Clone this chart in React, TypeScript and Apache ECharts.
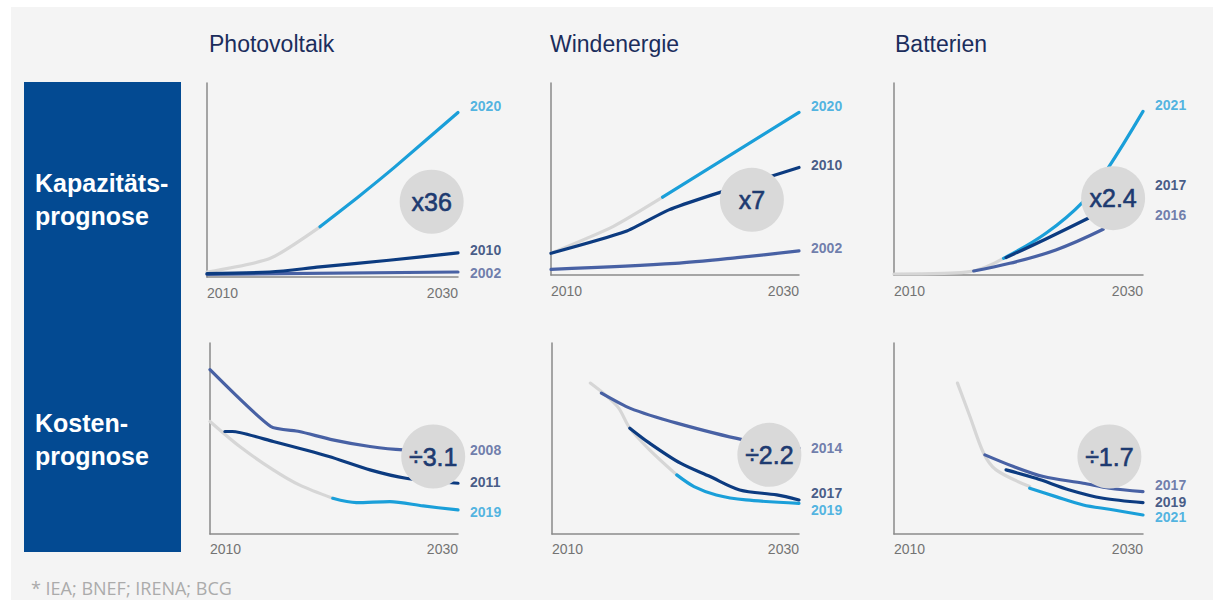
import React, { useEffect, useRef } from "react";
import * as echarts from "echarts";

// ---------- Data (x = year, y = relative index) ----------
const TICK_LABELS = ["2010", "2030"];
const COLUMN_TITLES = ["Photovoltaik", "Windenergie", "Batterien"];
const ROW_TITLES = ["Kapazitäts-\nprognose", "Kosten-\nprognose"];
const SOURCE = "* IEA; BNEF; IRENA; BCG";

// Photovoltaik – Kapazität
const PV_CAP_GRAY = [[2010, 15], [2015, 55], [2019, 150]];
const PV_CAP_2020 = [[2019, 150], [2022, 238], [2025, 330], [2030, 492]];
const PV_CAP_2010 = [[2010, 10], [2015, 15], [2019, 30], [2024.5, 50], [2030, 72]];
const PV_CAP_2002 = [[2010, 8], [2030, 15]];
const PV_CAP_LABELS = ["2020", "2010", "2002"];
const PV_CAP_LABEL_Y = [510, 80, 12];
const PV_CAP_BADGE = ["x36"];
const PV_CAP_BADGE_POS = [2027.9, 225];

// Windenergie – Kapazität
const WIND_CAP_GRAY = [[2010, 65], [2015, 145], [2019, 233]];
const WIND_CAP_2020 = [[2019, 233], [2030, 487]];
const WIND_CAP_2010 = [[2010, 65], [2016, 130], [2019.5, 195], [2023, 240], [2030, 322]];
const WIND_CAP_2002 = [[2010, 17], [2020, 35], [2025, 52], [2030, 72]];
const WIND_CAP_LABELS = ["2020", "2010", "2002"];
const WIND_CAP_LABEL_Y = [505, 330, 80];
const WIND_CAP_BADGE = ["x7"];
const WIND_CAP_BADGE_POS = [2026.2, 225];

// Batterien – Kapazität
const BAT_CAP_GRAY = [[2010, 3], [2014, 5], [2016.1, 10], [2018.8, 50]];
const BAT_CAP_2021 = [[2018.8, 50], [2022.2, 125], [2025.2, 220], [2027.1, 315], [2030, 490]];
const BAT_CAP_2017 = [[2019, 52], [2022.2, 108], [2025.6, 170]];
const BAT_CAP_2016 = [[2016.4, 12], [2019.3, 35], [2023, 75], [2026.8, 137]];
const BAT_CAP_LABELS = ["2021", "2017", "2016"];
const BAT_CAP_LABEL_Y = [510, 270, 180];
const BAT_CAP_BADGE = ["x2.4"];
const BAT_CAP_BADGE_POS = [2027.6, 230];

// Photovoltaik – Kosten
const PV_COST_GRAY = [[2010, 337], [2012.4, 262], [2015.1, 192], [2017.2, 147], [2019.9, 107]];
const PV_COST_2019 = [[2019.9, 107], [2021.8, 94], [2024.5, 97], [2027.2, 84], [2030, 72]];
const PV_COST_2011 = [[2011.2, 307], [2011.8, 307], [2015.1, 277], [2019.6, 232], [2022.9, 192], [2025.8, 167], [2030, 152]];
const PV_COST_2008 = [[2010, 492], [2014.9, 322], [2017.2, 307], [2019.9, 282], [2022.9, 262], [2025.6, 252], [2030, 250]];
const PV_COST_LABELS = ["2008", "2011", "2019"];
const PV_COST_LABEL_Y = [252, 157, 67];
const PV_COST_BADGE = ["÷3.1"];
const PV_COST_BADGE_POS = [2028.0, 232];

// Windenergie – Kosten
const WIND_COST_GRAY = [[2013.1, 452], [2014.3, 417], [2015.4, 377], [2016.3, 317], [2017.9, 252], [2020.1, 177]];
const WIND_COST_2019 = [[2020.1, 177], [2021.5, 142], [2023.3, 117], [2025.7, 102], [2030, 92]];
const WIND_COST_2017 = [[2016.3, 317], [2017.9, 272], [2020.4, 212], [2022.8, 172], [2025.2, 132], [2028.2, 117], [2030, 102]];
const WIND_COST_2014 = [[2014, 422], [2016.3, 377], [2020.1, 332], [2025.5, 282], [2030, 257]];
const WIND_COST_LABELS = ["2014", "2017", "2019"];
const WIND_COST_LABEL_Y = [257, 122, 72];
const WIND_COST_BADGE = ["÷2.2"];
const WIND_COST_BADGE_POS = [2027.6, 237];

// Batterien – Kosten
const BAT_COST_GRAY = [[2015.1, 452], [2016.1, 352], [2017.2, 242], [2018.2, 192], [2020.9, 142]];
const BAT_COST_2021 = [[2020.9, 137], [2023, 112], [2025.2, 87], [2027.3, 74], [2030, 57]];
const BAT_COST_2019 = [[2019, 192], [2021.4, 167], [2024.1, 132], [2026.8, 107], [2030, 94]];
const BAT_COST_2017 = [[2017.3, 237], [2019.6, 202], [2022, 172], [2025.2, 152], [2027.3, 137], [2030, 127]];
const BAT_COST_LABELS = ["2017", "2019", "2021"];
const BAT_COST_LABEL_Y = [147, 97, 52];
const BAT_COST_BADGE = ["÷1.7"];
const BAT_COST_BADGE_POS = [2027.3, 232];

// ---------- Styling ----------
const LIGHT = "#1a9fd9";
const NAVY = "#0c3b80";
const MED = "#4861a4";
const GRAY = "#d6d6d6";
const LABEL_LIGHT = "#27a3db";
const LABEL_NAVY = "#19356b";
const LABEL_MED = "#4d5f99";
const FONT = "'Liberation Sans', Arial, Helvetica, sans-serif";

const GRIDS = [
  { left: 207, top: 83, width: 251, height: 194 },
  { left: 551, top: 83, width: 248, height: 192 },
  { left: 894, top: 83, width: 249, height: 192 },
  { left: 210, top: 343, width: 248, height: 191 },
  { left: 552, top: 343, width: 247, height: 191 },
  { left: 894, top: 343, width: 249, height: 191 },
];
const Y_MAX = [580, 575, 575, 572, 572, 572];

type Line = { data: number[][]; color: string; smooth: number };
type Panel = {
  lines: Line[];
  labels: string[];
  labelY: number[];
  labelColors: string[];
  badge: string;
  badgePos: number[];
};

const PANELS: Panel[] = [
  {
    lines: [
      { data: PV_CAP_GRAY, color: GRAY, smooth: 0.2 },
      { data: PV_CAP_2002, color: MED, smooth: 0.2 },
      { data: PV_CAP_2010, color: NAVY, smooth: 0.3 },
      { data: PV_CAP_2020, color: LIGHT, smooth: 0.2 },
    ],
    labels: PV_CAP_LABELS,
    labelY: PV_CAP_LABEL_Y,
    labelColors: [LABEL_LIGHT, LABEL_NAVY, LABEL_MED],
    badge: PV_CAP_BADGE[0],
    badgePos: PV_CAP_BADGE_POS,
  },
  {
    lines: [
      { data: WIND_CAP_GRAY, color: GRAY, smooth: 0.2 },
      { data: WIND_CAP_2002, color: MED, smooth: 0.3 },
      { data: WIND_CAP_2010, color: NAVY, smooth: 0.2 },
      { data: WIND_CAP_2020, color: LIGHT, smooth: 0.2 },
    ],
    labels: WIND_CAP_LABELS,
    labelY: WIND_CAP_LABEL_Y,
    labelColors: [LABEL_LIGHT, LABEL_NAVY, LABEL_MED],
    badge: WIND_CAP_BADGE[0],
    badgePos: WIND_CAP_BADGE_POS,
  },
  {
    lines: [
      { data: BAT_CAP_GRAY, color: GRAY, smooth: 0.4 },
      { data: BAT_CAP_2016, color: MED, smooth: 0.4 },
      { data: BAT_CAP_2021, color: LIGHT, smooth: 0.4 },
      { data: BAT_CAP_2017, color: NAVY, smooth: 0.4 },
    ],
    labels: BAT_CAP_LABELS,
    labelY: BAT_CAP_LABEL_Y,
    labelColors: [LABEL_LIGHT, LABEL_NAVY, LABEL_MED],
    badge: BAT_CAP_BADGE[0],
    badgePos: BAT_CAP_BADGE_POS,
  },
  {
    lines: [
      { data: PV_COST_GRAY, color: GRAY, smooth: 0.3 },
      { data: PV_COST_2008, color: MED, smooth: 0.2 },
      { data: PV_COST_2011, color: NAVY, smooth: 0.2 },
      { data: PV_COST_2019, color: LIGHT, smooth: 0.3 },
    ],
    labels: PV_COST_LABELS,
    labelY: PV_COST_LABEL_Y,
    labelColors: [LABEL_MED, LABEL_NAVY, LABEL_LIGHT],
    badge: PV_COST_BADGE[0],
    badgePos: PV_COST_BADGE_POS,
  },
  {
    lines: [
      { data: WIND_COST_GRAY, color: GRAY, smooth: 0.3 },
      { data: WIND_COST_2014, color: MED, smooth: 0.2 },
      { data: WIND_COST_2019, color: LIGHT, smooth: 0.3 },
      { data: WIND_COST_2017, color: NAVY, smooth: 0.3 },
    ],
    labels: WIND_COST_LABELS,
    labelY: WIND_COST_LABEL_Y,
    labelColors: [LABEL_MED, LABEL_NAVY, LABEL_LIGHT],
    badge: WIND_COST_BADGE[0],
    badgePos: WIND_COST_BADGE_POS,
  },
  {
    lines: [
      { data: BAT_COST_GRAY, color: GRAY, smooth: 0.3 },
      { data: BAT_COST_2017, color: MED, smooth: 0.3 },
      { data: BAT_COST_2019, color: NAVY, smooth: 0.3 },
      { data: BAT_COST_2021, color: LIGHT, smooth: 0.3 },
    ],
    labels: BAT_COST_LABELS,
    labelY: BAT_COST_LABEL_Y,
    labelColors: [LABEL_MED, LABEL_NAVY, LABEL_LIGHT],
    badge: BAT_COST_BADGE[0],
    badgePos: BAT_COST_BADGE_POS,
  },
];

function buildOption() {
  const xAxis = GRIDS.map((_, i) => ({
    type: "value",
    gridIndex: i,
    min: 2010,
    max: 2030,
    interval: 20,
    axisLine: { show: true, lineStyle: { color: "#8a8a8a", width: 1.5 } },
    axisTick: { show: false },
    splitLine: { show: false },
    axisLabel: {
      color: "#737373",
      fontSize: 14,
      fontFamily: FONT,
      margin: i < 3 ? 9 : 8,
      alignMinLabel: "left",
      alignMaxLabel: "right",
      formatter: (v: number) => (v === 2010 ? TICK_LABELS[0] : TICK_LABELS[1]),
    },
  }));
  const yAxis = GRIDS.map((_, i) => ({
    type: "value",
    gridIndex: i,
    min: 0,
    max: Y_MAX[i],
    axisLine: { show: true, lineStyle: { color: "#8a8a8a", width: 1.5 } },
    axisTick: { show: false },
    axisLabel: { show: false },
    splitLine: { show: false },
  }));

  const series: any[] = [];
  PANELS.forEach((p, i) => {
    p.lines.forEach((l, j) => {
      series.push({
        type: "line",
        xAxisIndex: i,
        yAxisIndex: i,
        data: l.data,
        smooth: l.smooth,
        showSymbol: false,
        symbol: "none",
        silent: true,
        z: 2 + j,
        lineStyle: { color: l.color, width: 3.2, cap: "round", join: "round" },
      });
    });
    series.push({
      type: "scatter",
      xAxisIndex: i,
      yAxisIndex: i,
      data: [p.badgePos],
      symbol: "circle",
      symbolSize: 64,
      silent: true,
      z: 10,
      itemStyle: { color: "#d9d9d9", opacity: 1 },
      label: {
        show: true,
        position: "inside",
        formatter: p.badge,
        color: "#1d3a70",
        fontSize: 25,
        fontFamily: FONT,
        textBorderColor: "#1d3a70",
        textBorderWidth: 0.6,
      },
    });
    series.push({
      type: "scatter",
      xAxisIndex: i,
      yAxisIndex: i,
      silent: true,
      z: 12,
      symbolSize: 0.1,
      itemStyle: { color: "rgba(0,0,0,0)" },
      data: p.labels.map((t, k) => ({
        value: [2030, p.labelY[k]],
        label: {
          show: true,
          position: "right",
          distance: 12,
          formatter: t,
          color: p.labelColors[k],
          fontSize: 14,
          fontWeight: "bold",
          fontFamily: FONT,
        },
      })),
    });
  });

  const colX = [209, 550, 895];
  const graphic: any[] = [
    { type: "rect", z: -10, shape: { x: 11, y: 7, width: 1213, height: 600 }, style: { fill: "#f4f4f4" } },
    { type: "rect", z: -5, shape: { x: 24, y: 82, width: 157, height: 470 }, style: { fill: "#034a92" } },
    ...COLUMN_TITLES.map((t, i) => ({
      type: "text",
      x: colX[i],
      y: 44,
      style: { text: t, fill: "#1b2d5c", fontSize: 23, fontFamily: FONT, verticalAlign: "middle" },
    })),
    {
      type: "text",
      x: 35,
      y: 199,
      style: {
        text: ROW_TITLES[0],
        fill: "#ffffff",
        fontSize: 25,
        fontWeight: "bold",
        fontFamily: FONT,
        lineHeight: 33,
        verticalAlign: "middle",
      },
    },
    {
      type: "text",
      x: 35,
      y: 439,
      style: {
        text: ROW_TITLES[1],
        fill: "#ffffff",
        fontSize: 25,
        fontWeight: "bold",
        fontFamily: FONT,
        lineHeight: 33,
        verticalAlign: "middle",
      },
    },
    {
      type: "text",
      x: 31,
      y: 588,
      style: { text: SOURCE, fill: "#ababab", fontSize: 18, fontFamily: "'Open Sans', sans-serif", verticalAlign: "middle" },
    },
  ];

  return {
    animation: false,
    backgroundColor: "#ffffff",
    grid: GRIDS.map((g) => ({ ...g, containLabel: false })),
    xAxis,
    yAxis,
    series,
    graphic,
  };
}

export default function App() {
  const ref = useRef<HTMLDivElement>(null);
  useEffect(() => {
    document.body.style.margin = "0";
    if (!ref.current) return;
    const chart = echarts.init(ref.current, undefined, { renderer: "svg" });
    chart.setOption(buildOption() as any);
    return () => chart.dispose();
  }, []);
  return <div ref={ref} style={{ width: 1213, height: 600 }} />;
}
